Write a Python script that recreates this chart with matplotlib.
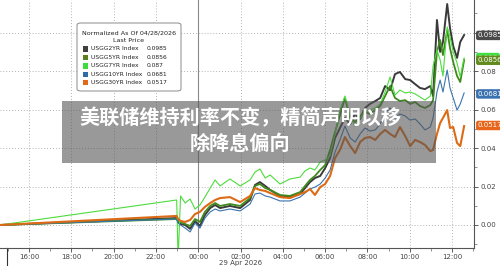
import pandas as pd
import matplotlib
matplotlib.use('Agg')
from matplotlib import pyplot as plt
import matplotlib.dates as mdates
from matplotlib.patches import Rectangle, FancyBboxPatch

plt.rcParams['font.family'] = ['DejaVu Sans']

# 시간축 (4/28 ~ 4/29)
times_28 = ['14:38', '22:59', '23:03', '23:10', '23:23', '23:37', '23:51']
times_29 = ['00:05', '00:19', '00:34', '00:48', '01:02', '01:30', '01:59', '02:27', '02:41', '02:55',
            '03:10', '03:24', '03:52', '04:20', '04:49', '05:03', '05:17', '05:31', '05:46', '06:00',
            '06:14', '06:28', '06:42', '06:56', '07:11', '07:25', '07:39', '07:53', '08:07', '08:22',
            '08:36', '08:50', '09:04', '09:18', '09:32', '09:47', '10:01', '10:15', '10:29', '10:43',
            '10:58', '11:06', '11:17', '11:26', '11:34', '11:46', '11:54', '12:03', '12:14', '12:23', '12:34']

usgg2 = [0, 0.0036, 0.0016, 0.0005, 0.0, -0.002, 0.002, -0.0005, 0.0052, 0.0088, 0.0104, 0.0088, 0.0099, 0.0088,
         0.013, 0.0208, 0.0223, 0.0203, 0.0182, 0.0151, 0.0145, 0.0161, 0.0192, 0.0223, 0.0244, 0.0255, 0.0296,
         0.0348, 0.0452, 0.0504, 0.0556, 0.0525, 0.0577, 0.0551, 0.0608, 0.0629, 0.0644, 0.066, 0.0722, 0.0701,
         0.0784, 0.0795, 0.0758, 0.0753, 0.0732, 0.0712, 0.0706, 0.0722, 0.067, 0.1065, 0.0899, 0.0951, 0.1148,
         0.1023, 0.093, 0.0868, 0.0951, 0.0987]
usgg5 = [0, 0.0031, 0.0021, 0.0016, 0.0005, -0.0005, 0.0031, 0.0016, 0.0068, 0.0099, 0.0114, 0.0099, 0.0109, 0.0099,
         0.014, 0.0203, 0.0213, 0.0192, 0.0182, 0.0156, 0.0151, 0.0171, 0.0203, 0.0234, 0.0255, 0.0286, 0.0312,
         0.039, 0.0483, 0.0571, 0.066, 0.0556, 0.0535, 0.0566, 0.0587, 0.0577, 0.0597, 0.0618, 0.067, 0.0722,
         0.066, 0.0644, 0.0649, 0.0629, 0.0639, 0.0618, 0.0608, 0.0623, 0.0649, 0.0899, 0.0961, 0.0883, 0.1013,
         0.0919, 0.0847, 0.0774, 0.0743, 0.0857]
usgg7 = [0, 0.013, -0.018, 0.0151, 0.0114, 0.0135, 0.0083, 0.0104, 0.0145, 0.0192, 0.0234, 0.0203, 0.0239, 0.0203,
         0.0234, 0.0275, 0.0291, 0.0244, 0.026, 0.0213, 0.0239, 0.0249, 0.0281, 0.0296, 0.0286, 0.0327, 0.0338,
         0.0358, 0.0473, 0.0597, 0.067, 0.0566, 0.0514, 0.0556, 0.0587, 0.0597, 0.0608, 0.0629, 0.0691, 0.0769,
         0.0675, 0.0701, 0.0686, 0.0691, 0.0681, 0.0665, 0.0649, 0.067, 0.0826, 0.0909, 0.0857, 0.0774, 0.1029,
         0.0977, 0.0899, 0.0842, 0.0769, 0.0868]
usgg10 = [0, 0.0031, 0.001, 0.0, -0.0016, -0.0036, 0.001, -0.0016, 0.0036, 0.0068, 0.0083, 0.0073, 0.0083, 0.0073,
          0.0109, 0.0161, 0.0166, 0.0151, 0.0145, 0.0125, 0.0125, 0.0145, 0.0166, 0.0187, 0.0197, 0.0213, 0.0244,
          0.0286, 0.0379, 0.0442, 0.0514, 0.0452, 0.0431, 0.0473, 0.0504, 0.0488, 0.0494, 0.0525, 0.0582, 0.0608,
          0.0556, 0.0577, 0.0566, 0.0545, 0.0551, 0.0525, 0.0494, 0.0509, 0.0556, 0.0691, 0.0753, 0.0691, 0.0805,
          0.0712, 0.066, 0.0597, 0.0629, 0.0686]
usgg30 = [0, 0.0047, 0.0031, 0.0021, 0.0016, 0.0026, 0.0057, 0.0068, 0.0094, 0.0114, 0.013, 0.014, 0.0145, 0.0119,
          0.0151, 0.0192, 0.0182, 0.0177, 0.0166, 0.0145, 0.014, 0.0161, 0.0171, 0.0187, 0.0156, 0.0197, 0.0213,
          0.0255, 0.0348, 0.039, 0.0457, 0.041, 0.0374, 0.0431, 0.0452, 0.0457, 0.0442, 0.0473, 0.0494, 0.0473,
          0.0457, 0.0509, 0.0462, 0.041, 0.0442, 0.0431, 0.0416, 0.0384, 0.039, 0.0473, 0.053, 0.0556, 0.0597,
          0.0504, 0.0509, 0.0426, 0.041, 0.0514]

names = ['USGG2YR Index', 'USGG5YR Index', 'USGG7YR Index', 'USGG10YR Index', 'USGG30YR Index']
last_price = ['0.0985', '0.0856', '0.087', '0.0681', '0.0517']
tick_vals = [0.00, 0.02, 0.04, 0.06, 0.08, 0.10]

times = pd.to_datetime(['2026-04-28 ' + t for t in times_28] + ['2026-04-29 ' + t for t in times_29])
series = [usgg2, usgg5, usgg7, usgg10, usgg30]
colors = ['#3a3a3a', '#3f8a1c', '#4cdc3c', '#3a74ad', '#dd6a14']
tag_colors = ['#4a4a4a', '#628a1e', '#3fe03f', '#3a72b0', '#e8651a']
widths = [1.4, 1.3, 0.8, 0.8, 1.5]

fig = plt.figure(figsize=(5, 2.66), dpi=100)
ax = fig.add_axes([0, 18/266, 474/500, 248/266])

# 그리는 순서: 7년 -> 10년 -> 5년 -> 30년 -> 2년
for i in [2, 3, 1, 4, 0]:
    ax.plot(times, series[i], color=colors[i], lw=widths[i], zorder=3 + i * 0.1)

ax.set_xlim(pd.Timestamp('2026-04-28 14:38'), pd.Timestamp('2026-04-29 13:02'))
ax.set_ylim(-0.01195, 0.1169)

ax.xaxis.set_major_locator(mdates.HourLocator(byhour=range(0, 24, 2)))
ax.xaxis.set_minor_locator(mdates.HourLocator())
ax.xaxis.set_major_formatter(mdates.DateFormatter('%H:%M'))
ax.yaxis.tick_right()
ax.set_yticks(tick_vals)
ax.set_yticklabels([f'{v:.2f}' for v in tick_vals])
ax.set_yticks([0.01, 0.03, 0.05, 0.07, 0.09, 0.11, -0.01], minor=True)
ax.tick_params(axis='both', which='major', labelsize=5, colors='#444444', length=3, width=0.6, pad=1.5)
ax.tick_params(axis='both', which='minor', length=2, width=0.5, colors='#666666')
ax.grid(True, which='major', color='#999999', linestyle=(0, (1, 2.5)), lw=0.6)
for s in ['left', 'top']:
    ax.spines[s].set_visible(False)
for s in ['right', 'bottom']:
    ax.spines[s].set_color('#555555')
    ax.spines[s].set_linewidth(0.8)

ax.axvline(pd.Timestamp('2026-04-29 00:00'), color='#8a8a8a', lw=0.8, zorder=2)
ax.axvline(pd.Timestamp('2026-04-28 14:58'), ymin=-0.08, ymax=0, color='#333333', lw=0.8, clip_on=False)
ax.text(pd.Timestamp('2026-04-29 02:00'), -0.062, '29 Apr 2026', transform=ax.get_xaxis_transform(),
        ha='center', va='center', fontsize=5, color='#444444')

# 오른쪽 값 태그
for i in [0, 2, 1, 3, 4]:
    ax.text(1.008, float(last_price[i]), last_price[i], transform=ax.get_yaxis_transform(),
            ha='left', va='center', fontsize=5, color='white', clip_on=False, zorder=10,
            bbox=dict(boxstyle='round,pad=0.25,rounding_size=0.3', fc=tag_colors[i], ec='none'))

# 범례 박스
def fx(x):
    return x / 500
def fy(y):
    return 1 - y / 266

fig.patches.append(FancyBboxPatch((fx(77), fy(91)), fx(104), 68/266, boxstyle='round,pad=0,rounding_size=0.008',
                                  transform=fig.transFigure, fc='white', ec='#8a8a8a', lw=0.7, zorder=5))
fig.text(fx(129), fy(33), 'Normalized As Of 04/28/2026', ha='center', va='center', fontsize=4.6, color='#222222', zorder=6)
fig.text(fx(129), fy(41), 'Last Price', ha='center', va='center', fontsize=4.6, color='#222222', zorder=6)
legend_colors = ['#404040', '#5b7f1a', '#3ddc3d', '#2e6ca4', '#e0691b']
for i, name in enumerate(names):
    yy = 49 + i * 8.4
    fig.patches.append(Rectangle((fx(82.5), fy(yy + 2.8)), fx(5.5), 5.5/266, transform=fig.transFigure,
                                 fc=legend_colors[i], ec='none', zorder=6))
    fig.text(fx(91), fy(yy), name, ha='left', va='center', fontsize=4.3, color='#222222', zorder=6)
    fig.text(fx(147), fy(yy), last_price[i], ha='left', va='center', fontsize=4.3, color='#222222', zorder=6)

# 제목 배너
fig.patches.append(Rectangle((fx(62), fy(163)), fx(374), 62/266, transform=fig.transFigure,
                             fc='#555555', alpha=0.6, ec='none', zorder=20))
banner_font = ['Noto Sans CJK SC', 'DejaVu Sans']
fig.text(fx(240), fy(118), '美联储维持利率不变，精简声明以移', ha='center', va='center', fontsize=14.5,
         fontweight='bold', color='white', family=banner_font, zorder=21)
fig.text(fx(240), fy(143), '除降息偏向', ha='center', va='center', fontsize=14.5,
         fontweight='bold', color='white', family=banner_font, zorder=21)

fig.savefig('out.png', dpi=100)
